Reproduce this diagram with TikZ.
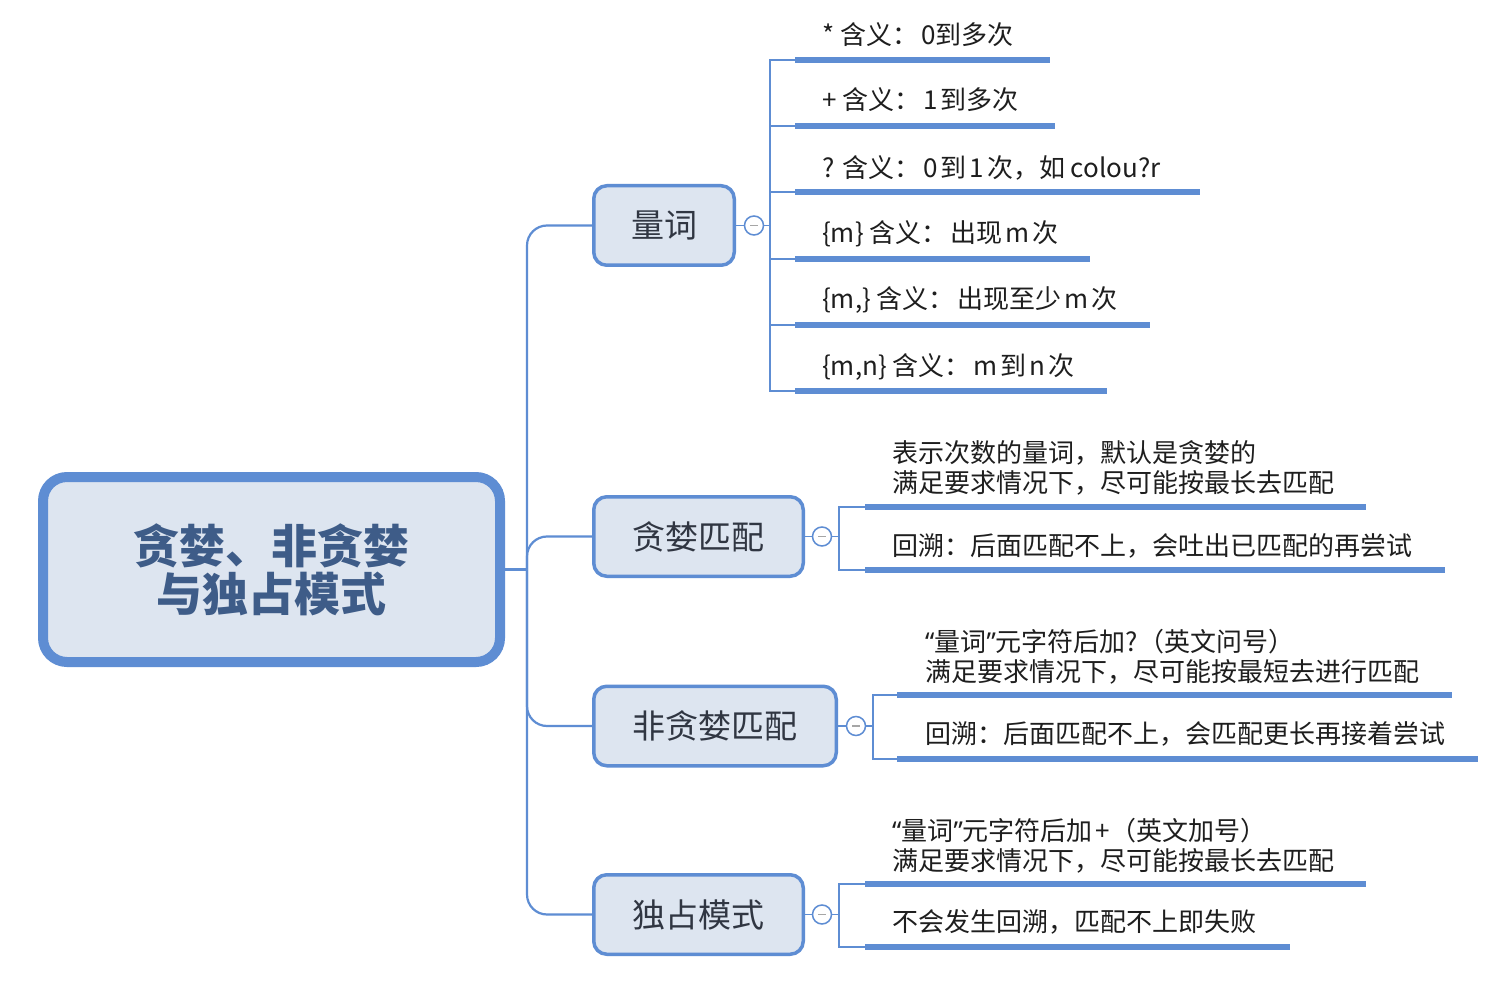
\documentclass[tikz,border=0pt]{standalone}
\usepackage{fontspec}
\newfontfamily\cjk{Noto Sans CJK SC}
\newfontfamily\latinq{Noto Sans}
\newcommand{\myoq}{{\latinq “}}
\newcommand{\mycq}{{\latinq ”}}
\newcommand{\mygap}{\kern3pt}
\definecolor{lblue}{RGB}{94,141,211}
\definecolor{boxfill}{RGB}{221,229,240}
\definecolor{titlecol}{RGB}{62,92,136}
\definecolor{topiccol}{RGB}{48,54,66}
\definecolor{leafcol}{RGB}{30,30,30}
\begin{document}
\begin{tikzpicture}[x=1pt,y=-1pt,
 conn/.style={draw=lblue,line width=2.2pt},
 uline/.style={draw=lblue,line width=6pt},
 rootbox/.style={draw=lblue,fill=boxfill,line width=10pt,rounded corners=24pt,inner sep=0pt,
   minimum width=457pt,minimum height=185pt,align=center,text=titlecol,
   font=\cjk\bfseries\fontsize{46}{48}\selectfont},
 topicbox/.style={draw=lblue,fill=boxfill,line width=3.5pt,rounded corners=13pt,inner sep=0pt,
   minimum height=79.5pt,text=topiccol,font=\cjk\fontsize{33}{36}\selectfont},
 fold/.style={circle,draw=lblue,fill=white,line width=1.5pt,minimum size=19pt,inner sep=0pt,
   path picture={\draw[gray!70,line width=1.5pt] ([xshift=-4pt]path picture bounding box.center) -- ([xshift=4pt]path picture bounding box.center);}},
 leaf/.style={anchor=base west,inner sep=0pt,text=leafcol,font=\cjk\fontsize{26}{29}\selectfont}
]
\useasboundingbox[fill=white] (0,0) rectangle (1507,981);

% root
\node[rootbox] (root) at (271.5,569.5) {贪婪、非贪婪\\与独占模式};
\coordinate (hub) at (527,569.5);

% topics
\node[topicbox,minimum width=140.5pt] (q) at (664,225.5) {量词};
\node[topicbox,minimum width=209.5pt] (g) at (698.5,536.5) {贪婪匹配};
\node[topicbox,minimum width=242.5pt] (ng) at (715,726) {非贪婪匹配};
\node[topicbox,minimum width=209.5pt] (p) at (698.5,914.5) {独占模式};

\draw[conn] (root.east) -- (hub);
\draw[conn,rounded corners=20pt] (hub) |- (q.west);
\draw[conn,rounded corners=20pt] (hub) |- (g.west);
\draw[conn,rounded corners=20pt] (hub) |- (ng.west);
\draw[conn,rounded corners=20pt] (hub) |- (p.west);

% fold circles
\node[fold] (qc) at (754,225.5) {};
\node[fold] (gc) at (822,536.5) {};
\node[fold] (ngc) at (856,726) {};
\node[fold] (pc) at (822,914.5) {};
\draw[conn,line width=1.6pt] (q.east) -- (qc.west);
\draw[conn,line width=1.6pt] (g.east) -- (gc.west);
\draw[conn,line width=1.6pt] (ng.east) -- (ngc.west);
\draw[conn,line width=1.6pt] (p.east) -- (pc.west);

% quantifier leaves
\coordinate (q1s) at (795,60);   \coordinate (q1e) at (1050,60);
\coordinate (q2s) at (795,126);  \coordinate (q2e) at (1055,126);
\coordinate (q3s) at (795,192);  \coordinate (q3e) at (1200,192);
\coordinate (q4s) at (795,259);  \coordinate (q4e) at (1090,259);
\coordinate (q5s) at (795,325);  \coordinate (q5e) at (1150,325);
\coordinate (q6s) at (795,391);  \coordinate (q6e) at (1107,391);
\node[leaf] (q1) at (822,45) {* 含义：\mygap 0到多次};
\node[leaf] (q2) at (822,110) {+ 含义：\mygap 1\mygap 到多次};
\node[leaf] (q3) at (822,178) {? 含义：\mygap 0\mygap 到\mygap 1\mygap 次，如 colou?r};
\node[leaf] (q4) at (822,243) {\{m\} 含义：\mygap 出现\mygap m\mygap 次};
\node[leaf] (q5) at (822,309) {\{m,\} 含义：\mygap 出现至少\mygap m\mygap 次};
\node[leaf] (q6) at (822,376) {\{m,n\} 含义：\mygap m\mygap 到\mygap n\mygap 次};
\foreach \i in {1,...,6}{
  \draw[conn,line width=1.6pt] (qc.east) -- ++(6,0) |- (q\i s);
  \draw[uline] (q\i s) -- (q\i e);
}

% greedy leaves
\coordinate (g1s) at (865,507); \coordinate (g1e) at (1366,507);
\coordinate (g2s) at (865,570); \coordinate (g2e) at (1445,570);
\node[leaf] (g1) at (892,462) {\begin{tabular}[t]{@{}l@{}}表示次数的量词，默认是贪婪的\\满足要求情况下，尽可能按最长去匹配\end{tabular}};
\node[leaf] (g2) at (892,555) {回溯：后面匹配不上，会吐出已匹配的再尝试};
\foreach \i in {1,2}{
  \draw[conn,line width=1.6pt] (gc.east) -- ++(7,0) |- (g\i s);
  \draw[uline] (g\i s) -- (g\i e);
}

% non-greedy leaves
\coordinate (n1s) at (897,695); \coordinate (n1e) at (1452,695);
\coordinate (n2s) at (897,759); \coordinate (n2e) at (1478,759);
\node[leaf] (n1) at (925,651) {\begin{tabular}[t]{@{}l@{}}\myoq 量词\mycq 元字符后加?（英文问号）\\满足要求情况下，尽可能按最短去进行匹配\end{tabular}};
\node[leaf] (n2) at (925,743) {回溯：后面匹配不上，会匹配更长再接着尝试};
\foreach \i in {1,2}{
  \draw[conn,line width=1.6pt] (ngc.east) -- ++(7,0) |- (n\i s);
  \draw[uline] (n\i s) -- (n\i e);
}

% possessive leaves
\coordinate (p1s) at (865,884); \coordinate (p1e) at (1366,884);
\coordinate (p2s) at (865,947); \coordinate (p2e) at (1290,947);
\node[leaf] (p1) at (892,840) {\begin{tabular}[t]{@{}l@{}}\myoq 量词\mycq 元字符后加\mygap +（英文加号）\\满足要求情况下，尽可能按最长去匹配\end{tabular}};
\node[leaf] (p2) at (892,931) {不会发生回溯，匹配不上即失败};
\foreach \i in {1,2}{
  \draw[conn,line width=1.6pt] (pc.east) -- ++(7,0) |- (p\i s);
  \draw[uline] (p\i s) -- (p\i e);
}
\end{tikzpicture}
\end{document}
